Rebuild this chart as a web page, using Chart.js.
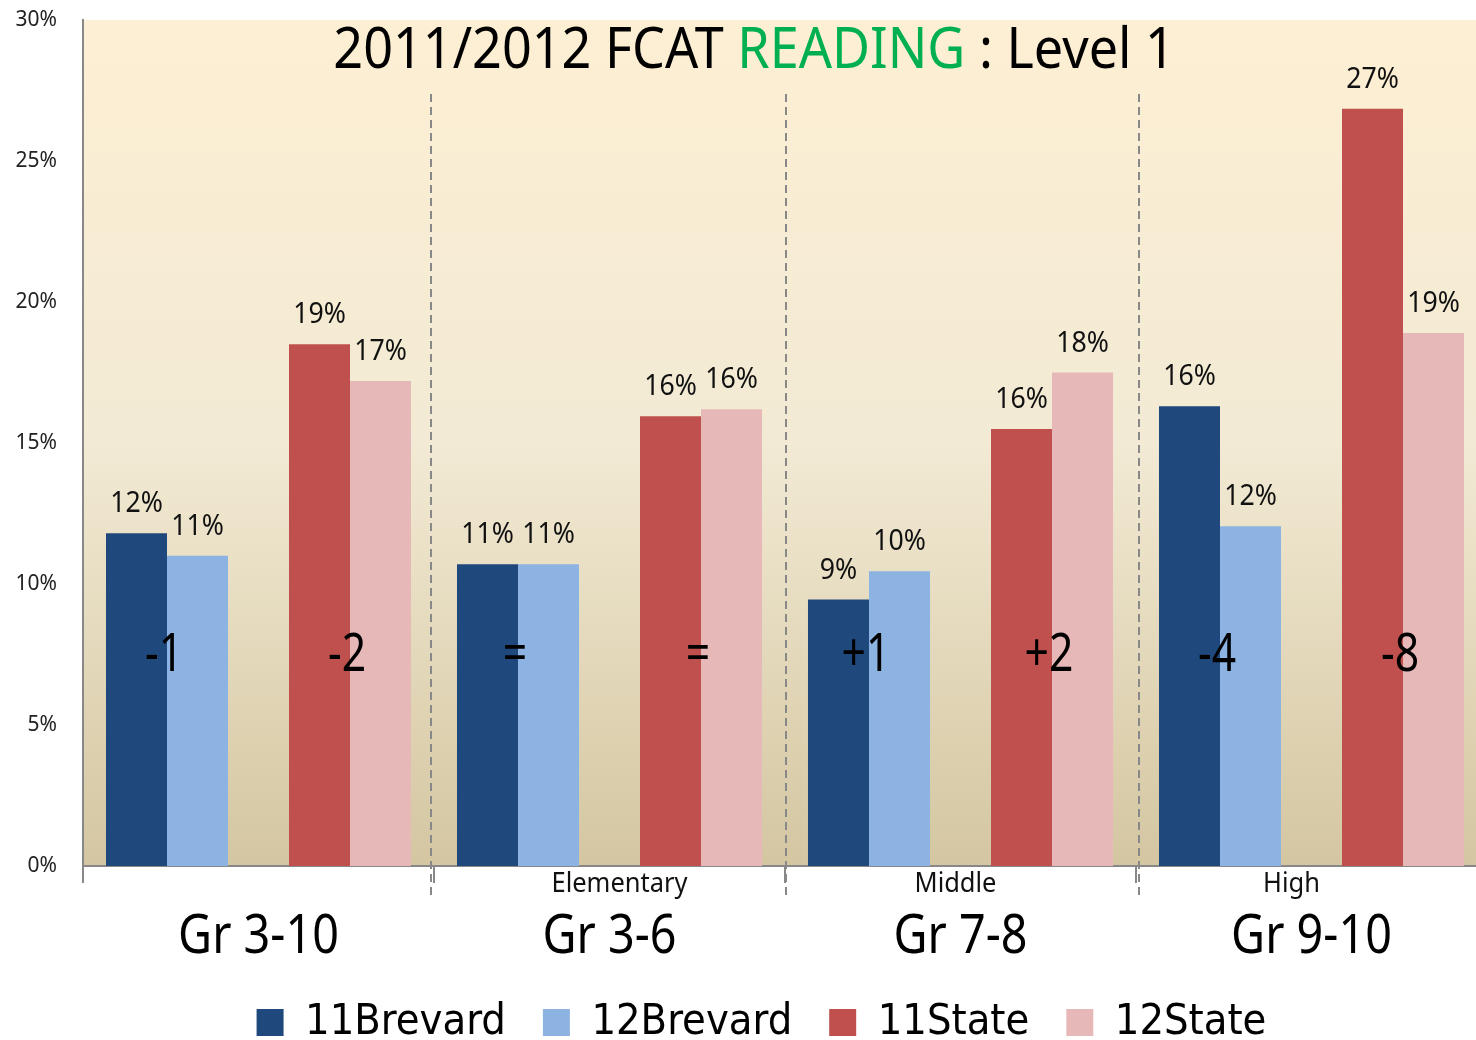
<!DOCTYPE html>
<html>
<head>
<meta charset="utf-8">
<script src="https://cdn.jsdelivr.net/npm/chart.js@4"></script>
<style>
  html, body { margin: 0; padding: 0; background: #fff; overflow: hidden; }
  #wrap { width: 1490px; height: 1040px; }
</style>
</head>
<body>
<div id="wrap"><canvas id="c" width="1490" height="1040"></canvas></div>
<script>
// ---- data ----
const categories = ["Gr 3-10", "Gr 3-6", "Gr 7-8", "Gr 9-10"];
const subLabels = ["", "Elementary", "Middle", "High"];
const brevard11 = [11.8, 10.7, 9.45, 16.3];
const brevard12 = [11.0, 10.7, 10.45, 12.05];
const state11 = [18.5, 15.95, 15.5, 26.85];
const state12 = [17.2, 16.2, 17.5, 18.9];
const diffBrevard = ["-1", "=", "+1", "-4"];
const diffState = ["-2", "=", "+2", "-8"];
const seriesNames = ["11Brevard", "12Brevard", "11State", "12State"];
const titleParts = ["2011/2012 FCAT ", "READING", " : Level 1"];

// ---- style ----
const COLORS = ["#1F497D", "#8DB3E2", "#C0504D", "#E6B9B8"];
const FONT = '"Noto Sans", "Open Sans", sans-serif';
const AXIS = "#888888";

function drawText(ctx, text, x, y, size, sx, color, align) {
  ctx.save();
  ctx.font = size + "px " + FONT;
  ctx.fillStyle = color;
  ctx.textBaseline = "alphabetic";
  ctx.textAlign = "left";
  const w = ctx.measureText(text).width * sx;
  let x0 = x;
  if (align === "center") x0 = x - w / 2;
  else if (align === "right") x0 = x - w;
  ctx.translate(x0, y);
  ctx.scale(sx, 1);
  ctx.fillText(text, 0, 0);
  ctx.restore();
  return w;
}
function textWidth(ctx, text, size, sx) {
  ctx.save();
  ctx.font = size + "px " + FONT;
  const w = ctx.measureText(text).width * sx;
  ctx.restore();
  return w;
}

const bgPlugin = {
  id: "bg",
  afterLayout(chart) {
    // nudge the legend block slightly right, like the reference
    if (chart.legend) { chart.legend.left += 12; chart.legend.right += 12; }
  },
  beforeDraw(chart) {
    const { ctx, chartArea: a } = chart;
    const g = ctx.createLinearGradient(0, a.top, 0, a.bottom);
    g.addColorStop(0, "#FDEFD3");
    g.addColorStop(0.5, "#F2EAD4");
    g.addColorStop(1, "#D4C6A1");
    ctx.save();
    ctx.fillStyle = g;
    ctx.fillRect(a.left, a.top, a.right - a.left, a.bottom - a.top);
    ctx.restore();
  }
};

const sepOffsets = [-3, 1, 3];
const subOffsets = [0, 10, -5, -20];

const decoPlugin = {
  id: "deco",
  afterDatasetsDraw(chart) {
    const { ctx, chartArea: a, scales: { x, y } } = chart;
    // data labels
    chart.data.datasets.forEach((ds, di) => {
      if (ds.spacer) return;
      const meta = chart.getDatasetMeta(di);
      meta.data.forEach((bar, i) => {
        const v = ds.data[i];
        if (v == null) return;
        drawText(ctx, Math.round(v) + "%", bar.x, bar.y - 21, 29, 0.92, "#111", "center");
      });
    });
    // difference labels between paired bars
    const pairs = [[0, 1, diffBrevard], [3, 4, diffState]];
    const baseY = y.getPixelForValue(6.9);
    pairs.forEach(([d1, d2, labels]) => {
      const m1 = chart.getDatasetMeta(d1), m2 = chart.getDatasetMeta(d2);
      labels.forEach((t, i) => {
        const cx = (m1.data[i].x + m2.data[i].x) / 2 - 3;
        drawText(ctx, t, cx, baseY, 52, 0.82, "#000", "center");
      });
    });
  },
  afterDraw(chart) {
    const { ctx, chartArea: a, scales: { x, y } } = chart;
    // dashed separators between groups
    const half = (x.getPixelForValue(1) - x.getPixelForValue(0)) / 2;
    ctx.save();
    ctx.strokeStyle = AXIS;
    ctx.lineWidth = 2;
    ctx.setLineDash([8, 5]);
    for (let i = 0; i < categories.length - 1; i++) {
      const bx = x.getPixelForValue(i) + half + sepOffsets[i];
      ctx.beginPath();
      ctx.moveTo(bx, a.top + 74);
      ctx.lineTo(bx, a.bottom + 30);
      ctx.stroke();
    }
    ctx.restore();
    // category labels + sub labels
    categories.forEach((c, i) => {
      const cx = x.getPixelForValue(i);
      drawText(ctx, c, cx, a.bottom + 87, 55, 0.85, "#000", "center");
      if (subLabels[i]) drawText(ctx, subLabels[i], cx + subOffsets[i], a.bottom + 26, 28, 0.91, "#111", "center");
    });
    // title with coloured word
    const tSize = 57, tsx = 0.915;
    const widths = titleParts.map(t => textWidth(ctx, t, tSize, tsx));
    const total = widths.reduce((s, w) => s + w, 0);
    let tx = a.left + 0.478 * (a.right - a.left) - total / 2;
    const tColors = ["#000", "#00B050", "#000"];
    titleParts.forEach((t, i) => {
      drawText(ctx, t, tx, a.top + 48, tSize, tsx, tColors[i], "left");
      tx += widths[i];
    });
  }
};

const datasets = [
  { label: seriesNames[0], data: brevard11, backgroundColor: COLORS[0] },
  { label: seriesNames[1], data: brevard12, backgroundColor: COLORS[1] },
  { label: "", data: categories.map(() => null), backgroundColor: "rgba(0,0,0,0)", spacer: true },
  { label: seriesNames[2], data: state11, backgroundColor: COLORS[2] },
  { label: seriesNames[3], data: state12, backgroundColor: COLORS[3] }
];

new Chart(document.getElementById("c"), {
  type: "bar",
  data: { labels: categories, datasets },
  options: {
    responsive: false,
    animation: false,
    events: [],
    layout: { padding: { left: 12, top: 20, right: 3, bottom: -14 } },
    datasets: { bar: { categoryPercentage: 0.869, barPercentage: 1.0, borderWidth: 0 } },
    scales: {
      x: {
        offset: true,
        grid: { display: true, offset: true, drawOnChartArea: false, drawTicks: true, tickLength: 17, color: AXIS, lineWidth: 2 },
        border: { display: true, color: AXIS, width: 2 },
        ticks: { display: false },
        afterFit(s) { s.height = 98; }
      },
      y: {
        min: 0, max: 30,
        grid: { display: false, drawTicks: false },
        border: { display: true, color: AXIS, width: 2 },
        ticks: {
          stepSize: 5, padding: 26, color: "#222",
          font: { family: FONT, size: 21 },
          callback: v => v + "%"
        },
        afterFit(s) { s.width = 71; s.paddingTop = 0; s.paddingBottom = 0; }
      }
    },
    plugins: {
      title: { display: false },
      tooltip: { enabled: false },
      legend: {
        display: true,
        position: "bottom",
        labels: {
          boxWidth: 27, boxHeight: 27, padding: 37, color: "#000",
          font: { family: '"DejaVu Sans Condensed", "Liberation Sans Narrow", sans-serif', size: 43, lineHeight: 0.7 },
          filter: item => item.text !== ""
        }
      }
    }
  },
  plugins: [bgPlugin, decoPlugin]
});
</script>
</body>
</html>
